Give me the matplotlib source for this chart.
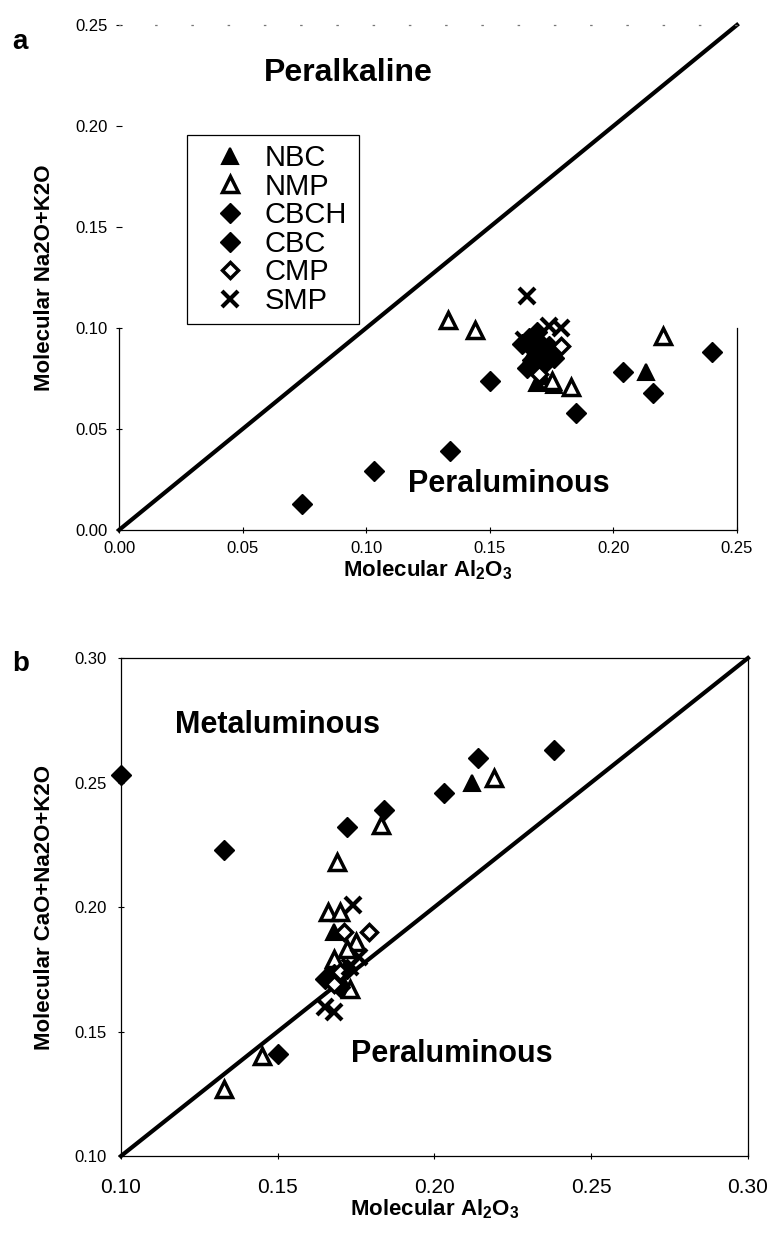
import matplotlib
matplotlib.use('Agg')
import matplotlib.pyplot as plt
from matplotlib.lines import Line2D
from matplotlib.patches import Rectangle

plt.rcParams['font.family'] = ['Liberation Sans', 'DejaVu Sans']
plt.rcParams['mathtext.fontset'] = 'custom'
plt.rcParams['mathtext.rm'] = 'Liberation Sans:bold'
plt.rcParams['mathtext.it'] = 'Liberation Sans:bold'
plt.rcParams['mathtext.bf'] = 'Liberation Sans:bold'

# --- panel a: Na2O+K2O vs Al2O3 ---
nbc_a_x = [0.213, 0.169, 0.176, 0.171, 0.166]
nbc_a_y = [0.078, 0.073, 0.072, 0.076, 0.084]
nmp_a_x = [0.133, 0.144, 0.220, 0.183, 0.175]
nmp_a_y = [0.104, 0.099, 0.096, 0.071, 0.074]
cbch_a_x = [0.163, 0.166, 0.168, 0.170, 0.172, 0.167, 0.165, 0.171, 0.169, 0.174, 0.176]
cbch_a_y = [0.092, 0.095, 0.089, 0.093, 0.087, 0.084, 0.080, 0.081, 0.098, 0.091, 0.085]
cbc_a_x = [0.074, 0.103, 0.134, 0.150, 0.185, 0.204, 0.216, 0.240]
cbc_a_y = [0.013, 0.029, 0.039, 0.074, 0.058, 0.078, 0.068, 0.088]
cmp_a_x = [0.179, 0.170]
cmp_a_y = [0.091, 0.077]
smp_a_x = [0.165, 0.174, 0.179, 0.164]
smp_a_y = [0.116, 0.101, 0.100, 0.094]

# --- panel b: CaO+Na2O+K2O vs Al2O3 ---
nbc_b_x = [0.212, 0.168, 0.167, 0.170]
nbc_b_y = [0.250, 0.190, 0.176, 0.172]
nmp_b_x = [0.133, 0.145, 0.166, 0.170, 0.169, 0.183, 0.219, 0.175, 0.173, 0.168, 0.172]
nmp_b_y = [0.127, 0.140, 0.198, 0.198, 0.218, 0.233, 0.252, 0.186, 0.167, 0.179, 0.183]
cbch_b_x = [0.165, 0.168, 0.170, 0.172]
cbch_b_y = [0.171, 0.173, 0.168, 0.175]
cbc_b_x = [0.100, 0.133, 0.150, 0.172, 0.184, 0.203, 0.214, 0.238]
cbc_b_y = [0.253, 0.223, 0.141, 0.232, 0.239, 0.246, 0.260, 0.263]
cmp_b_x = [0.171, 0.179, 0.170, 0.168]
cmp_b_y = [0.190, 0.190, 0.174, 0.169]
smp_b_x = [0.174, 0.165, 0.168, 0.176, 0.173]
smp_b_y = [0.201, 0.160, 0.158, 0.180, 0.176]

a_ticks = [0.00, 0.05, 0.10, 0.15, 0.20, 0.25]
b_ticks = [0.10, 0.15, 0.20, 0.25, 0.30]

groups = ['NBC', 'NMP', 'CBCH', 'CBC', 'CMP', 'SMP']
styles = {
    'NBC': dict(marker='^', ms=12, mfc='black', mec='black', mew=1.5),
    'NMP': dict(marker='^', ms=11, mfc='white', mec='black', mew=2.5),
    'CBCH': dict(marker='D', ms=10, mfc='black', mec='black', mew=1),
    'CBC': dict(marker='D', ms=10, mfc='black', mec='black', mew=1),
    'CMP': dict(marker='D', ms=8, mfc='white', mec='black', mew=2.5),
    'SMP': dict(marker='x', ms=12, mec='black', mew=3),
}


def draw_points(ax, data):
    for name in groups:
        xs, ys = data[name]
        ax.plot(xs, ys, ls='none', clip_on=False, zorder=3, **styles[name])


fig = plt.figure(figsize=(7.78, 12.36), dpi=100)

# panel a
ax1 = fig.add_axes([0.1530, 0.5712, 0.7943, 0.4086])
ax1.plot([0, 0.25], [0, 0.25], color='black', lw=3, zorder=2, clip_on=False)
draw_points(ax1, {'NBC': (nbc_a_x, nbc_a_y), 'NMP': (nmp_a_x, nmp_a_y),
                  'CBCH': (cbch_a_x, cbch_a_y), 'CBC': (cbc_a_x, cbc_a_y),
                  'CMP': (cmp_a_x, cmp_a_y), 'SMP': (smp_a_x, smp_a_y)})
ax1.set_xlim(0, 0.25)
ax1.set_ylim(0, 0.25)
ax1.set_xticks(a_ticks)
ax1.set_yticks(a_ticks)
ax1.set_xticklabels(['%.2f' % t for t in a_ticks], fontsize=12)
ax1.set_yticklabels(['%.2f' % t for t in a_ticks], fontsize=12)
ax1.tick_params(direction='inout', length=4, width=0.8, pad=6)
ax1.spines['left'].set_bounds(0, 0.10)
ax1.spines['right'].set_bounds(0, 0.10)
ax1.spines['top'].set_linestyle((0, (1, 28)))
ax1.spines['top'].set_color('#777777')
for s in ax1.spines.values():
    s.set_linewidth(0.9)
ax1.set_xlabel('Molecular Al$_2$O$_3$', fontsize=16, fontweight='bold', labelpad=2)
ax1.set_ylabel('Molecular Na2O+K2O', fontsize=16, fontweight='bold', labelpad=15)
ax1.text(0.0926, 0.226, 'Peralkaline', fontsize=23, fontweight='bold', ha='center', va='center')
ax1.text(0.1578, 0.023, 'Peraluminous', fontsize=22, fontweight='bold', ha='center', va='center')

# legend: entries without frame, box drawn separately so it can be wider
handles = [Line2D([], [], ls='none', **styles[g]) for g in groups]
ax1.legend(handles, groups, loc='upper left',
           bbox_to_anchor=(215 / 778, 1 - 144 / 1236), bbox_transform=fig.transFigure,
           fontsize=21, frameon=False, labelspacing=0.02, handletextpad=0.7,
           handlelength=1.0, borderpad=0, borderaxespad=0)
fig.add_artist(Rectangle((187 / 778, 1 - 324 / 1236), 172 / 778, 189 / 1236,
                         transform=fig.transFigure, fill=False, ec='black', lw=0.9))

# panel b
ax2 = fig.add_axes([0.1555, 0.0647, 0.8059, 0.4029])
ax2.plot([0.10, 0.30], [0.10, 0.30], color='black', lw=3, zorder=2, clip_on=False)
draw_points(ax2, {'NBC': (nbc_b_x, nbc_b_y), 'NMP': (nmp_b_x, nmp_b_y),
                  'CBCH': (cbch_b_x, cbch_b_y), 'CBC': (cbc_b_x, cbc_b_y),
                  'CMP': (cmp_b_x, cmp_b_y), 'SMP': (smp_b_x, smp_b_y)})
ax2.set_xlim(0.10, 0.30)
ax2.set_ylim(0.10, 0.30)
ax2.set_xticks(b_ticks)
ax2.set_yticks(b_ticks)
ax2.set_xticklabels(['%.2f' % t for t in b_ticks], fontsize=15)
ax2.set_yticklabels(['%.2f' % t for t in b_ticks], fontsize=12)
ax2.tick_params(direction='inout', length=4, width=0.8)
ax2.tick_params(axis='x', pad=14)
ax2.tick_params(axis='y', pad=8)
for s in ax2.spines.values():
    s.set_linewidth(0.9)
ax2.set_xlabel('Molecular Al$_2$O$_3$', fontsize=16, fontweight='bold', labelpad=0)
ax2.set_ylabel('Molecular CaO+Na2O+K2O', fontsize=16, fontweight='bold', labelpad=14)
ax2.text(0.150, 0.273, 'Metaluminous', fontsize=22, fontweight='bold', ha='center', va='center')
ax2.text(0.2055, 0.141, 'Peraluminous', fontsize=22, fontweight='bold', ha='center', va='center')

fig.text(12 / 778, 1 - 42 / 1236, 'a', fontsize=20, fontweight='bold', ha='left', va='center')
fig.text(12 / 778, 1 - 664 / 1236, 'b', fontsize=20, fontweight='bold', ha='left', va='center')

fig.savefig('out.png', dpi=100)
